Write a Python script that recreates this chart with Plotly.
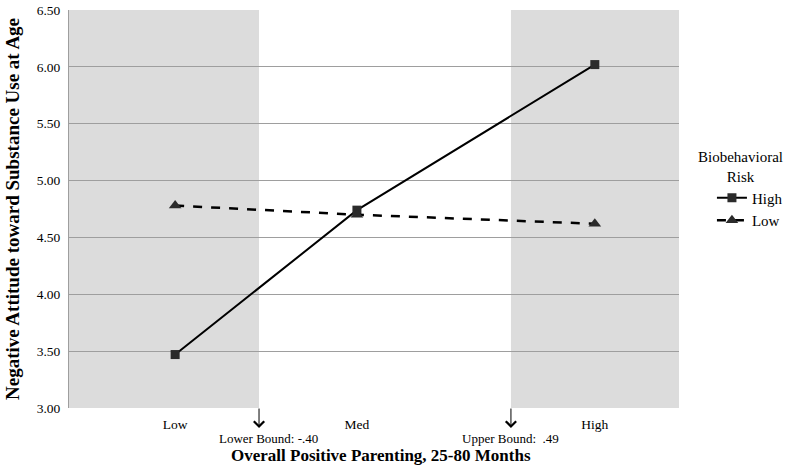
import plotly.graph_objects as go

# ---- data ----
categories = ["Low", "Med", "High"]
high_risk = [3.47, 4.74, 6.02]
low_risk = [4.78, 4.70, 4.62]
series_names = ["High", "Low"]
y_tick_vals = [3.0, 3.5, 4.0, 4.5, 5.0, 5.5, 6.0, 6.5]
y_tick_text = ["3.00", "3.50", "4.00", "4.50", "5.00", "5.50", "6.00", "6.50"]
bound_labels = ["Lower Bound:\u00a0-.40", "Upper Bound:\u00a0\u00a0.49"]

# ---- layout positions (normalized x axis 0..1) ----
cat_x = [0.174, 0.472, 0.862]
bound_x = [0.3115, 0.7245]

FONT = "Liberation Serif, Times New Roman, serif"
MARK = "#2b2b2b"

fig = go.Figure()
fig.add_trace(go.Scatter(
    x=cat_x, y=high_risk, name=series_names[0], mode="lines+markers",
    line=dict(color="black", width=2),
    marker=dict(symbol="square", size=9, color=MARK),
))
fig.add_trace(go.Scatter(
    x=cat_x, y=low_risk, name=series_names[1], mode="lines+markers",
    line=dict(color="black", width=2.5, dash="dash"),
    marker=dict(symbol="triangle-up", size=11, color=MARK),
))

shapes = [
    dict(type="rect", xref="x", yref="y", x0=0, x1=bound_x[0], y0=3.0, y1=6.5,
         fillcolor="#dcdcdc", line=dict(width=0), layer="below"),
    dict(type="rect", xref="x", yref="y", x0=bound_x[1], x1=1, y0=3.0, y1=6.5,
         fillcolor="#dcdcdc", line=dict(width=0), layer="below"),
]

annotations = []
for bx in bound_x:
    annotations.append(dict(x=bx, y=-0.0503, xref="x", yref="paper", text="",
                            showarrow=True, arrowhead=4, arrowsize=2, arrowwidth=1,
                            arrowcolor="black", ax=0, ay=-21))
annotations.append(dict(x=0.3265, y=-0.0754, xref="x", yref="paper", text=bound_labels[0],
                        xanchor="center", yanchor="middle", showarrow=False,
                        font=dict(family=FONT, size=13, color="black")))
annotations.append(dict(x=0.7245, y=-0.0754, xref="x", yref="paper", text=bound_labels[1],
                        xanchor="center", yanchor="middle", showarrow=False,
                        font=dict(family=FONT, size=13, color="black")))
annotations.append(dict(x=0.511, y=-0.1206, xref="paper", yref="paper",
                        xanchor="center", yanchor="middle",
                        text="<b>Overall Positive Parenting, 25-80 Months</b>",
                        showarrow=False, font=dict(family=FONT, size=17, color="black")))
annotations.append(dict(x=-0.0934, y=0.5, xref="paper", yref="paper", textangle=-90,
                        xanchor="center", yanchor="middle",
                        text="<b>Negative Attitude toward Substance Use at Age</b>",
                        showarrow=False, font=dict(family=FONT, size=19, color="black")))
annotations.append(dict(x=1.1, y=0.6055, xref="paper", yref="paper", xanchor="center",
                        yanchor="middle", text="Biobehavioral<br>Risk", showarrow=False,
                        font=dict(family=FONT, size=15, color="black")))

fig.update_layout(
    width=800, height=471,
    margin=dict(l=69, r=121, t=10, b=63),
    paper_bgcolor="white", plot_bgcolor="white",
    font=dict(family=FONT, color="black"),
    shapes=shapes, annotations=annotations,
    showlegend=True,
    legend=dict(x=1.054, y=0.569, xanchor="left", yanchor="top",
                font=dict(family=FONT, size=15, color="black"),
                bgcolor="rgba(0,0,0,0)", tracegroupgap=0),
    xaxis=dict(range=[0, 1], tickvals=cat_x, ticktext=categories,
               showgrid=False, zeroline=False, showline=False, ticks="",
               ticklabelstandoff=6, automargin=False,
               tickfont=dict(family=FONT, size=13.5, color="black")),
    yaxis=dict(range=[3.0, 6.5], tickvals=y_tick_vals, ticktext=y_tick_text,
               showgrid=True, gridcolor="#9e9e9e", gridwidth=1, zeroline=False,
               showline=True, linecolor="#9e9e9e", linewidth=1, ticks="",
               ticklabelstandoff=5, automargin=False,
               tickfont=dict(family=FONT, size=13.5, color="black")),
)

fig.write_html("out.html", config={"displayModeBar": False},
               post_script="document.body.style.margin='0px';")
